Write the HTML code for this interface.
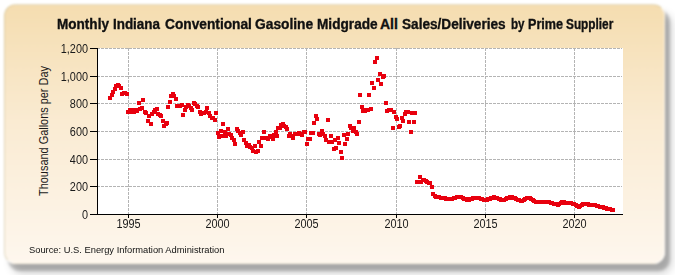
<!DOCTYPE html>
<html><head><meta charset="utf-8"><style>
html,body{margin:0;padding:0;background:#fff;width:675px;height:275px;overflow:hidden;font-family:"Liberation Sans",sans-serif;}
#panel{position:absolute;left:4px;top:4px;width:661px;height:260px;border-radius:12px;box-sizing:border-box;border:1px solid rgba(190,180,140,0.45);border-right-color:rgba(255,255,255,0.6);border-bottom-color:rgba(255,255,255,0.6);
 background:linear-gradient(to bottom,#F5DDB0 0%,#FAEBD2 45%,#FEF7EE 100%);filter:blur(1px);
 box-shadow:4.5px 6.5px 2.4px rgba(0,0,0,0.22),7px 9.5px 9px rgba(0,0,0,0.17);}
#title{position:absolute;left:0;top:16px;width:675px;height:16px;}
.tw{position:absolute;top:0;font-size:14px;line-height:16px;font-weight:bold;color:#111;-webkit-text-stroke:0.35px #111;white-space:nowrap;transform-origin:0 0;}
.yl{position:absolute;left:28px;width:60px;text-align:right;font-size:12.5px;color:#1a1a1a;line-height:14px;transform:scaleX(0.87);transform-origin:60px 0;}
.xl{position:absolute;top:217px;width:41px;text-align:center;font-size:12.5px;color:#1a1a1a;line-height:14px;transform:scaleX(0.87);}
#ytitle{position:absolute;left:-31px;top:124px;width:150px;height:14px;line-height:14px;text-align:center;font-size:12px;color:#1a1a1a;transform:rotate(-90deg) scaleX(0.91);white-space:nowrap;}
#src{position:absolute;left:29px;top:244px;font-size:9.5px;line-height:12px;color:#111;white-space:nowrap;transform:scaleX(0.982);transform-origin:0 0;}
svg{position:absolute;left:0;top:0;}
</style></head><body>
<div id="panel"></div>
<div id="title"><span class="tw" style="left:56.83px;transform:scaleX(0.968)">Monthly</span><span class="tw" style="left:113.24px;transform:scaleX(0.958)">Indiana</span><span class="tw" style="left:165.42px;transform:scaleX(0.980)">Conventional</span><span class="tw" style="left:255.42px;transform:scaleX(0.984)">Gasoline</span><span class="tw" style="left:317.22px;transform:scaleX(0.975)">Midgrade</span><span class="tw" style="left:380.00px;transform:scaleX(1.000)">All</span><span class="tw" style="left:402.13px;transform:scaleX(0.972)">Sales/Deliveries</span><span class="tw" style="left:510.57px;transform:scaleX(0.827)">by</span><span class="tw" style="left:528.40px;transform:scaleX(0.900)">Prime</span><span class="tw" style="left:565.96px;transform:scaleX(0.844)">Supplier</span></div>
<svg width="675" height="275" viewBox="0 0 675 275">
<rect x="98" y="48" width="525" height="166" fill="#fff"/>
<g stroke="#B4B4B4" stroke-width="1" stroke-dasharray="3,1" shape-rendering="crispEdges">
<line x1="98" y1="48.5" x2="622" y2="48.5" stroke-dashoffset="1"/>
<line x1="98" y1="76.5" x2="622" y2="76.5" stroke-dashoffset="1"/>
<line x1="98" y1="103.5" x2="622" y2="103.5" stroke-dashoffset="1"/>
<line x1="98" y1="131.5" x2="622" y2="131.5" stroke-dashoffset="1"/>
<line x1="98" y1="159.5" x2="622" y2="159.5" stroke-dashoffset="1"/>
<line x1="98" y1="186.5" x2="622" y2="186.5" stroke-dashoffset="1"/>
<line x1="128.5" y1="48" x2="128.5" y2="214"/>
<line x1="217.5" y1="48" x2="217.5" y2="214"/>
<line x1="306.5" y1="48" x2="306.5" y2="214"/>
<line x1="396.5" y1="48" x2="396.5" y2="214"/>
<line x1="485.5" y1="48" x2="485.5" y2="214"/>
<line x1="574.5" y1="48" x2="574.5" y2="214"/>
</g>
<g fill="#E8000E" shape-rendering="crispEdges">
<rect x="108" y="96" width="4" height="4"/>
<rect x="110" y="93" width="4" height="4"/>
<rect x="111" y="90" width="4" height="4"/>
<rect x="113" y="87" width="4" height="4"/>
<rect x="114" y="84" width="4" height="4"/>
<rect x="116" y="83" width="4" height="4"/>
<rect x="117" y="84" width="4" height="4"/>
<rect x="119" y="86" width="4" height="4"/>
<rect x="120" y="92" width="4" height="4"/>
<rect x="122" y="91" width="4" height="4"/>
<rect x="123" y="91" width="4" height="4"/>
<rect x="125" y="92" width="4" height="4"/>
<rect x="126" y="110" width="4" height="4"/>
<rect x="128" y="108" width="4" height="4"/>
<rect x="129" y="110" width="4" height="4"/>
<rect x="131" y="108" width="4" height="4"/>
<rect x="132" y="110" width="4" height="4"/>
<rect x="134" y="108" width="4" height="4"/>
<rect x="135" y="109" width="4" height="4"/>
<rect x="137" y="101" width="4" height="4"/>
<rect x="138" y="107" width="4" height="4"/>
<rect x="140" y="106" width="4" height="4"/>
<rect x="141" y="98" width="4" height="4"/>
<rect x="143" y="110" width="4" height="4"/>
<rect x="144" y="111" width="4" height="4"/>
<rect x="146" y="119" width="4" height="4"/>
<rect x="147" y="114" width="4" height="4"/>
<rect x="149" y="122" width="4" height="4"/>
<rect x="150" y="112" width="4" height="4"/>
<rect x="152" y="110" width="4" height="4"/>
<rect x="153" y="108" width="4" height="4"/>
<rect x="155" y="107" width="4" height="4"/>
<rect x="156" y="112" width="4" height="4"/>
<rect x="158" y="113" width="4" height="4"/>
<rect x="159" y="114" width="4" height="4"/>
<rect x="161" y="119" width="4" height="4"/>
<rect x="162" y="124" width="4" height="4"/>
<rect x="164" y="122" width="4" height="4"/>
<rect x="165" y="121" width="4" height="4"/>
<rect x="166" y="105" width="4" height="4"/>
<rect x="168" y="100" width="4" height="4"/>
<rect x="169" y="94" width="4" height="4"/>
<rect x="171" y="92" width="4" height="4"/>
<rect x="172" y="94" width="4" height="4"/>
<rect x="174" y="97" width="4" height="4"/>
<rect x="175" y="104" width="4" height="4"/>
<rect x="177" y="104" width="4" height="4"/>
<rect x="178" y="104" width="4" height="4"/>
<rect x="180" y="103" width="4" height="4"/>
<rect x="181" y="113" width="4" height="4"/>
<rect x="183" y="108" width="4" height="4"/>
<rect x="184" y="105" width="4" height="4"/>
<rect x="186" y="103" width="4" height="4"/>
<rect x="187" y="104" width="4" height="4"/>
<rect x="189" y="106" width="4" height="4"/>
<rect x="190" y="108" width="4" height="4"/>
<rect x="192" y="101" width="4" height="4"/>
<rect x="193" y="102" width="4" height="4"/>
<rect x="195" y="104" width="4" height="4"/>
<rect x="196" y="105" width="4" height="4"/>
<rect x="198" y="110" width="4" height="4"/>
<rect x="199" y="112" width="4" height="4"/>
<rect x="201" y="111" width="4" height="4"/>
<rect x="202" y="111" width="4" height="4"/>
<rect x="204" y="110" width="4" height="4"/>
<rect x="205" y="106" width="4" height="4"/>
<rect x="207" y="111" width="4" height="4"/>
<rect x="208" y="114" width="4" height="4"/>
<rect x="210" y="116" width="4" height="4"/>
<rect x="211" y="116" width="4" height="4"/>
<rect x="213" y="118" width="4" height="4"/>
<rect x="214" y="111" width="4" height="4"/>
<rect x="216" y="131" width="4" height="4"/>
<rect x="217" y="135" width="4" height="4"/>
<rect x="219" y="129" width="4" height="4"/>
<rect x="220" y="134" width="4" height="4"/>
<rect x="221" y="122" width="4" height="4"/>
<rect x="223" y="130" width="4" height="4"/>
<rect x="224" y="134" width="4" height="4"/>
<rect x="226" y="127" width="4" height="4"/>
<rect x="227" y="132" width="4" height="4"/>
<rect x="229" y="133" width="4" height="4"/>
<rect x="230" y="136" width="4" height="4"/>
<rect x="232" y="138" width="4" height="4"/>
<rect x="233" y="142" width="4" height="4"/>
<rect x="235" y="127" width="4" height="4"/>
<rect x="236" y="129" width="4" height="4"/>
<rect x="238" y="131" width="4" height="4"/>
<rect x="239" y="133" width="4" height="4"/>
<rect x="241" y="130" width="4" height="4"/>
<rect x="242" y="138" width="4" height="4"/>
<rect x="244" y="141" width="4" height="4"/>
<rect x="245" y="144" width="4" height="4"/>
<rect x="247" y="143" width="4" height="4"/>
<rect x="248" y="145" width="4" height="4"/>
<rect x="250" y="146" width="4" height="4"/>
<rect x="251" y="149" width="4" height="4"/>
<rect x="253" y="144" width="4" height="4"/>
<rect x="254" y="150" width="4" height="4"/>
<rect x="256" y="149" width="4" height="4"/>
<rect x="257" y="140" width="4" height="4"/>
<rect x="259" y="144" width="4" height="4"/>
<rect x="260" y="136" width="4" height="4"/>
<rect x="262" y="130" width="4" height="4"/>
<rect x="263" y="136" width="4" height="4"/>
<rect x="265" y="136" width="4" height="4"/>
<rect x="266" y="137" width="4" height="4"/>
<rect x="268" y="134" width="4" height="4"/>
<rect x="269" y="135" width="4" height="4"/>
<rect x="271" y="137" width="4" height="4"/>
<rect x="272" y="133" width="4" height="4"/>
<rect x="274" y="130" width="4" height="4"/>
<rect x="275" y="134" width="4" height="4"/>
<rect x="276" y="126" width="4" height="4"/>
<rect x="278" y="126" width="4" height="4"/>
<rect x="279" y="123" width="4" height="4"/>
<rect x="281" y="122" width="4" height="4"/>
<rect x="282" y="124" width="4" height="4"/>
<rect x="284" y="125" width="4" height="4"/>
<rect x="285" y="127" width="4" height="4"/>
<rect x="287" y="134" width="4" height="4"/>
<rect x="288" y="132" width="4" height="4"/>
<rect x="290" y="134" width="4" height="4"/>
<rect x="291" y="136" width="4" height="4"/>
<rect x="293" y="132" width="4" height="4"/>
<rect x="294" y="132" width="4" height="4"/>
<rect x="296" y="132" width="4" height="4"/>
<rect x="297" y="131" width="4" height="4"/>
<rect x="299" y="132" width="4" height="4"/>
<rect x="300" y="133" width="4" height="4"/>
<rect x="302" y="130" width="4" height="4"/>
<rect x="303" y="130" width="4" height="4"/>
<rect x="305" y="142" width="4" height="4"/>
<rect x="306" y="137" width="4" height="4"/>
<rect x="308" y="137" width="4" height="4"/>
<rect x="309" y="131" width="4" height="4"/>
<rect x="311" y="131" width="4" height="4"/>
<rect x="312" y="121" width="4" height="4"/>
<rect x="314" y="114" width="4" height="4"/>
<rect x="315" y="117" width="4" height="4"/>
<rect x="317" y="132" width="4" height="4"/>
<rect x="318" y="133" width="4" height="4"/>
<rect x="320" y="129" width="4" height="4"/>
<rect x="321" y="132" width="4" height="4"/>
<rect x="323" y="134" width="4" height="4"/>
<rect x="324" y="138" width="4" height="4"/>
<rect x="326" y="118" width="4" height="4"/>
<rect x="327" y="140" width="4" height="4"/>
<rect x="329" y="134" width="4" height="4"/>
<rect x="330" y="140" width="4" height="4"/>
<rect x="332" y="147" width="4" height="4"/>
<rect x="333" y="138" width="4" height="4"/>
<rect x="334" y="146" width="4" height="4"/>
<rect x="336" y="136" width="4" height="4"/>
<rect x="337" y="141" width="4" height="4"/>
<rect x="339" y="150" width="4" height="4"/>
<rect x="340" y="156" width="4" height="4"/>
<rect x="342" y="133" width="4" height="4"/>
<rect x="343" y="142" width="4" height="4"/>
<rect x="345" y="137" width="4" height="4"/>
<rect x="346" y="132" width="4" height="4"/>
<rect x="348" y="124" width="4" height="4"/>
<rect x="349" y="126" width="4" height="4"/>
<rect x="351" y="129" width="4" height="4"/>
<rect x="352" y="126" width="4" height="4"/>
<rect x="354" y="130" width="4" height="4"/>
<rect x="355" y="132" width="4" height="4"/>
<rect x="357" y="120" width="4" height="4"/>
<rect x="358" y="93" width="4" height="4"/>
<rect x="360" y="105" width="4" height="4"/>
<rect x="361" y="109" width="4" height="4"/>
<rect x="363" y="109" width="4" height="4"/>
<rect x="364" y="108" width="4" height="4"/>
<rect x="366" y="108" width="4" height="4"/>
<rect x="367" y="93" width="4" height="4"/>
<rect x="369" y="107" width="4" height="4"/>
<rect x="370" y="81" width="4" height="4"/>
<rect x="372" y="86" width="4" height="4"/>
<rect x="373" y="60" width="4" height="4"/>
<rect x="375" y="56" width="4" height="4"/>
<rect x="376" y="78" width="4" height="4"/>
<rect x="378" y="72" width="4" height="4"/>
<rect x="379" y="82" width="4" height="4"/>
<rect x="381" y="75" width="4" height="4"/>
<rect x="382" y="74" width="4" height="4"/>
<rect x="384" y="101" width="4" height="4"/>
<rect x="385" y="109" width="4" height="4"/>
<rect x="387" y="108" width="4" height="4"/>
<rect x="388" y="108" width="4" height="4"/>
<rect x="389" y="108" width="4" height="4"/>
<rect x="391" y="126" width="4" height="4"/>
<rect x="392" y="110" width="4" height="4"/>
<rect x="394" y="115" width="4" height="4"/>
<rect x="395" y="117" width="4" height="4"/>
<rect x="397" y="125" width="4" height="4"/>
<rect x="398" y="124" width="4" height="4"/>
<rect x="400" y="116" width="4" height="4"/>
<rect x="401" y="119" width="4" height="4"/>
<rect x="403" y="112" width="4" height="4"/>
<rect x="404" y="110" width="4" height="4"/>
<rect x="406" y="110" width="4" height="4"/>
<rect x="407" y="120" width="4" height="4"/>
<rect x="409" y="130" width="4" height="4"/>
<rect x="410" y="111" width="4" height="4"/>
<rect x="412" y="120" width="4" height="4"/>
<rect x="413" y="111" width="4" height="4"/>
<rect x="415" y="180" width="4" height="4"/>
<rect x="416" y="180" width="4" height="4"/>
<rect x="418" y="175" width="4" height="4"/>
<rect x="419" y="180" width="4" height="4"/>
<rect x="421" y="178" width="4" height="4"/>
<rect x="422" y="178" width="4" height="4"/>
<rect x="424" y="179" width="4" height="4"/>
<rect x="425" y="180" width="4" height="4"/>
<rect x="427" y="181" width="4" height="4"/>
<rect x="428" y="181" width="4" height="4"/>
<rect x="430" y="185" width="4" height="4"/>
<rect x="431" y="192" width="4" height="4"/>
<rect x="433" y="194" width="4" height="4"/>
<rect x="434" y="195" width="4" height="4"/>
<rect x="436" y="195" width="4" height="4"/>
<rect x="437" y="195" width="4" height="4"/>
<rect x="439" y="196" width="4" height="4"/>
<rect x="440" y="196" width="4" height="4"/>
<rect x="442" y="196" width="4" height="4"/>
<rect x="443" y="196" width="4" height="4"/>
<rect x="444" y="197" width="4" height="4"/>
<rect x="446" y="197" width="4" height="4"/>
<rect x="447" y="197" width="4" height="4"/>
<rect x="449" y="197" width="4" height="4"/>
<rect x="450" y="197" width="4" height="4"/>
<rect x="452" y="196" width="4" height="4"/>
<rect x="453" y="196" width="4" height="4"/>
<rect x="455" y="195" width="4" height="4"/>
<rect x="456" y="195" width="4" height="4"/>
<rect x="458" y="195" width="4" height="4"/>
<rect x="459" y="195" width="4" height="4"/>
<rect x="461" y="196" width="4" height="4"/>
<rect x="462" y="197" width="4" height="4"/>
<rect x="464" y="197" width="4" height="4"/>
<rect x="465" y="198" width="4" height="4"/>
<rect x="467" y="198" width="4" height="4"/>
<rect x="468" y="197" width="4" height="4"/>
<rect x="470" y="197" width="4" height="4"/>
<rect x="471" y="196" width="4" height="4"/>
<rect x="473" y="196" width="4" height="4"/>
<rect x="474" y="196" width="4" height="4"/>
<rect x="476" y="196" width="4" height="4"/>
<rect x="477" y="196" width="4" height="4"/>
<rect x="479" y="197" width="4" height="4"/>
<rect x="480" y="197" width="4" height="4"/>
<rect x="482" y="198" width="4" height="4"/>
<rect x="483" y="198" width="4" height="4"/>
<rect x="485" y="198" width="4" height="4"/>
<rect x="486" y="197" width="4" height="4"/>
<rect x="488" y="197" width="4" height="4"/>
<rect x="489" y="196" width="4" height="4"/>
<rect x="491" y="196" width="4" height="4"/>
<rect x="492" y="195" width="4" height="4"/>
<rect x="494" y="196" width="4" height="4"/>
<rect x="495" y="196" width="4" height="4"/>
<rect x="497" y="197" width="4" height="4"/>
<rect x="498" y="197" width="4" height="4"/>
<rect x="499" y="198" width="4" height="4"/>
<rect x="501" y="198" width="4" height="4"/>
<rect x="502" y="198" width="4" height="4"/>
<rect x="504" y="197" width="4" height="4"/>
<rect x="505" y="196" width="4" height="4"/>
<rect x="507" y="196" width="4" height="4"/>
<rect x="508" y="195" width="4" height="4"/>
<rect x="510" y="195" width="4" height="4"/>
<rect x="511" y="196" width="4" height="4"/>
<rect x="513" y="196" width="4" height="4"/>
<rect x="514" y="197" width="4" height="4"/>
<rect x="516" y="198" width="4" height="4"/>
<rect x="517" y="198" width="4" height="4"/>
<rect x="519" y="199" width="4" height="4"/>
<rect x="520" y="199" width="4" height="4"/>
<rect x="522" y="198" width="4" height="4"/>
<rect x="523" y="197" width="4" height="4"/>
<rect x="525" y="196" width="4" height="4"/>
<rect x="526" y="196" width="4" height="4"/>
<rect x="528" y="196" width="4" height="4"/>
<rect x="529" y="197" width="4" height="4"/>
<rect x="531" y="198" width="4" height="4"/>
<rect x="532" y="199" width="4" height="4"/>
<rect x="534" y="200" width="4" height="4"/>
<rect x="535" y="200" width="4" height="4"/>
<rect x="537" y="200" width="4" height="4"/>
<rect x="538" y="200" width="4" height="4"/>
<rect x="540" y="200" width="4" height="4"/>
<rect x="541" y="200" width="4" height="4"/>
<rect x="543" y="200" width="4" height="4"/>
<rect x="544" y="200" width="4" height="4"/>
<rect x="546" y="200" width="4" height="4"/>
<rect x="547" y="200" width="4" height="4"/>
<rect x="549" y="201" width="4" height="4"/>
<rect x="550" y="201" width="4" height="4"/>
<rect x="552" y="202" width="4" height="4"/>
<rect x="553" y="202" width="4" height="4"/>
<rect x="554" y="202" width="4" height="4"/>
<rect x="556" y="203" width="4" height="4"/>
<rect x="557" y="202" width="4" height="4"/>
<rect x="559" y="201" width="4" height="4"/>
<rect x="560" y="200" width="4" height="4"/>
<rect x="562" y="200" width="4" height="4"/>
<rect x="563" y="201" width="4" height="4"/>
<rect x="565" y="201" width="4" height="4"/>
<rect x="566" y="201" width="4" height="4"/>
<rect x="568" y="201" width="4" height="4"/>
<rect x="569" y="201" width="4" height="4"/>
<rect x="571" y="202" width="4" height="4"/>
<rect x="572" y="202" width="4" height="4"/>
<rect x="574" y="203" width="4" height="4"/>
<rect x="575" y="204" width="4" height="4"/>
<rect x="577" y="205" width="4" height="4"/>
<rect x="578" y="204" width="4" height="4"/>
<rect x="580" y="203" width="4" height="4"/>
<rect x="581" y="202" width="4" height="4"/>
<rect x="583" y="202" width="4" height="4"/>
<rect x="584" y="202" width="4" height="4"/>
<rect x="586" y="202" width="4" height="4"/>
<rect x="587" y="203" width="4" height="4"/>
<rect x="589" y="203" width="4" height="4"/>
<rect x="590" y="203" width="4" height="4"/>
<rect x="592" y="203" width="4" height="4"/>
<rect x="593" y="203" width="4" height="4"/>
<rect x="595" y="204" width="4" height="4"/>
<rect x="596" y="204" width="4" height="4"/>
<rect x="598" y="205" width="4" height="4"/>
<rect x="599" y="205" width="4" height="4"/>
<rect x="601" y="205" width="4" height="4"/>
<rect x="602" y="206" width="4" height="4"/>
<rect x="604" y="206" width="4" height="4"/>
<rect x="605" y="207" width="4" height="4"/>
<rect x="607" y="207" width="4" height="4"/>
<rect x="608" y="207" width="4" height="4"/>
<rect x="610" y="208" width="4" height="4"/>
<rect x="611" y="208" width="4" height="4"/>
</g>
<g stroke="#000" stroke-width="1" shape-rendering="crispEdges">
<line x1="97.5" y1="48" x2="97.5" y2="215"/>
<line x1="90" y1="214.5" x2="623" y2="214.5"/>
<line x1="90" y1="48.5" x2="97" y2="48.5"/>
<line x1="90" y1="76.5" x2="97" y2="76.5"/>
<line x1="90" y1="103.5" x2="97" y2="103.5"/>
<line x1="90" y1="131.5" x2="97" y2="131.5"/>
<line x1="90" y1="159.5" x2="97" y2="159.5"/>
<line x1="90" y1="186.5" x2="97" y2="186.5"/>
<line x1="90" y1="214.5" x2="97" y2="214.5"/>
<line x1="128.5" y1="214" x2="128.5" y2="218"/>
<line x1="217.5" y1="214" x2="217.5" y2="218"/>
<line x1="306.5" y1="214" x2="306.5" y2="218"/>
<line x1="396.5" y1="214" x2="396.5" y2="218"/>
<line x1="485.5" y1="214" x2="485.5" y2="218"/>
<line x1="574.5" y1="214" x2="574.5" y2="218"/>
</g>
</svg>
<div class="yl" style="top:42px">1,200</div>
<div class="yl" style="top:70px">1,000</div>
<div class="yl" style="top:97px">800</div>
<div class="yl" style="top:125px">600</div>
<div class="yl" style="top:153px">400</div>
<div class="yl" style="top:180px">200</div>
<div class="yl" style="top:208px">0</div>
<div class="xl" style="left:108px">1995</div>
<div class="xl" style="left:197px">2000</div>
<div class="xl" style="left:286px">2005</div>
<div class="xl" style="left:376px">2010</div>
<div class="xl" style="left:465px">2015</div>
<div class="xl" style="left:554px">2020</div>
<div id="ytitle">Thousand Gallons per Day</div>
<div id="src">Source: U.S. Energy Information Administration</div>
</body></html>
